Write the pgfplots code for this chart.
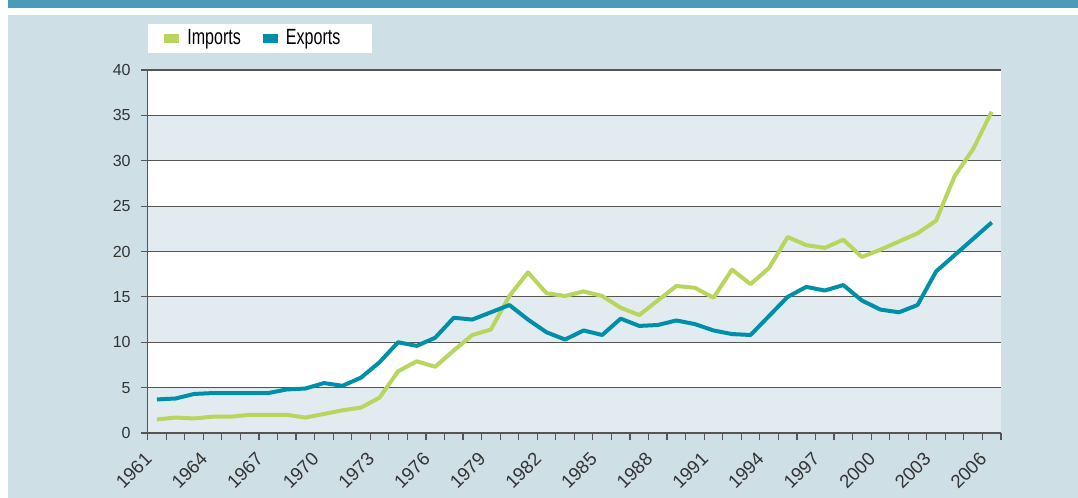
\documentclass[border=0pt]{standalone}
\usepackage{pgfplots}
\pgfplotsset{compat=1.18}
\usepackage{pgfplotstable}
\usepackage{fontspec}
\setmainfont{Liberation Sans}
\newfontfamily\legfont[FakeStretch=0.73]{Liberation Sans}

\definecolor{panel}{HTML}{CFDFE6}
\definecolor{band}{HTML}{E2EBEF}
\definecolor{header}{HTML}{4A9BB8}
\definecolor{impgreen}{HTML}{B8D65E}
\definecolor{expteal}{HTML}{008FA8}
\definecolor{gridc}{HTML}{555555}

% year index i is plotted at i+0.5 (1961 = 0.5)
\pgfplotstableread{
x    imp   exp
0.5  1.5   3.7
1.5  1.7   3.8
2.5  1.6   4.3
3.5  1.8   4.4
4.5  1.8   4.4
5.5  2.0   4.4
6.5  2.0   4.4
7.5  2.0   4.8
8.5  1.7   4.9
9.5  2.1   5.5
10.5 2.5   5.2
11.5 2.8   6.1
12.5 3.9   7.8
13.5 6.8   10.0
14.5 7.9   9.6
15.5 7.3   10.5
16.5 9.1   12.7
17.5 10.8  12.5
18.5 11.4  13.3
19.5 15.1  14.1
20.5 17.7  12.5
21.5 15.4  11.1
22.5 15.1  10.3
23.5 15.6  11.3
24.5 15.1  10.8
25.5 13.8  12.6
26.5 13.0  11.8
27.5 14.6  11.9
28.5 16.2  12.4
29.5 16.0  12.0
30.5 14.9  11.3
31.5 18.0  10.9
32.5 16.4  10.8
33.5 18.2  12.9
34.5 21.6  15.0
35.5 20.7  16.1
36.5 20.4  15.7
37.5 21.3  16.3
38.5 19.4  14.6
39.5 20.2  13.6
40.5 21.1  13.3
41.5 22.0  14.1
42.5 23.4  17.8
43.5 28.3  19.6
44.5 31.3  21.4
45.5 35.4  23.2
}\tradedata

\begin{document}
\begin{tikzpicture}
% page frame: 1078 x 498 px at 0.5pt per px, axis origin at px (147.7,433)
\useasboundingbox (-73.85pt,-32.5pt) rectangle (465.15pt,216.5pt);
\fill[white] (-73.85pt,-32.5pt) rectangle (465.15pt,216.5pt);
\fill[header] (-69.85pt,212.3pt) rectangle (465.15pt,216.5pt);
\fill[panel] (-69.85pt,-32.5pt) rectangle (465.15pt,209pt);
% plot area bands
\fill[white] (0,0) rectangle (426.65pt,181.5pt);
\fill[band] (0,0) rectangle (426.65pt,22.6875pt);
\fill[band] (0,45.375pt) rectangle (426.65pt,68.0625pt);
\fill[band] (0,90.75pt) rectangle (426.65pt,113.4375pt);
\fill[band] (0,136.125pt) rectangle (426.65pt,158.8125pt);

\begin{axis}[
    at={(0,0)}, anchor=origin,
    scale only axis,
    width=426.65pt, height=181.5pt,
    xmin=0, xmax=46,
    ymin=0, ymax=40,
    axis x line=bottom, axis y line=left,
    axis line style={-, gridc, line width=0.7pt},
    xtick={0,3,...,45},
    xticklabels={1961,1964,1967,1970,1973,1976,1979,1982,1985,1988,1991,1994,1997,2000,2003,2006},
    minor xtick={0,1,...,46},
    ytick={0,5,...,40},
    tick align=outside,
    major tick length=3.5pt,
    minor tick length=3.5pt,
    tick style={gridc, line width=0.6pt},
    ymajorgrids=true,
    major grid style={gridc, line width=0.6pt},
    tick label style={font=\fontsize{8}{9.6}\selectfont, text=black!80},
    xticklabel style={font=\fontsize{9.3}{11}\selectfont, xshift=-2pt, yshift=-4pt, rotate=45, anchor=north east, inner sep=1pt},
    yticklabel style={xshift=-1.5pt},
    /pgf/number format/assume math mode=true,
    legend columns=2,
    legend style={
        at={(-0.0005,1.1287)}, anchor=north west,
        draw=none, fill=white,
        font=\legfont\fontsize{11}{13}\selectfont,
        inner xsep=8.35pt, inner ysep=0.9pt,
        nodes={inner sep=2pt, text depth=0.15em},
        /tikz/every odd column/.append style={column sep=2pt},
        /tikz/every even column/.append style={column sep=9pt},
    },
    legend image code/.code={\fill[#1, draw=none] (0pt,-2.3pt) rectangle (7.5pt,2.35pt);},
]
\addplot[impgreen, line width=2pt, line join=round] table[x=x, y=imp] {\tradedata};
\addlegendentry{Imports}
\addplot[expteal, line width=2pt, line join=round] table[x=x, y=exp] {\tradedata};
\addlegendentry{Exports\kern5.5pt}
\end{axis}
\end{tikzpicture}
\end{document}
